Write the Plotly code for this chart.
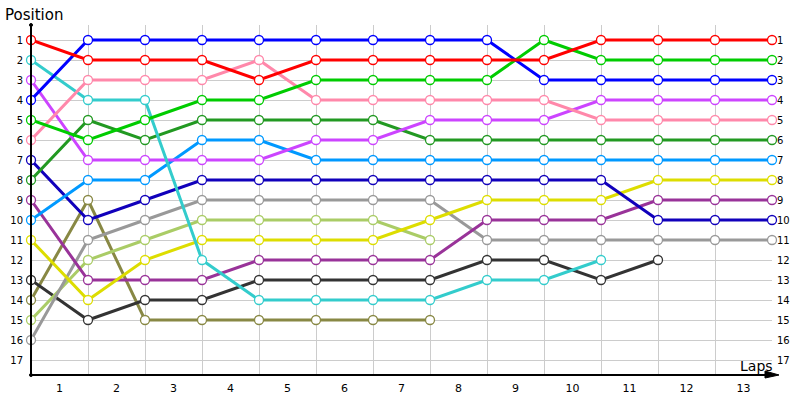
import plotly.graph_objects as go

# lap 0 = start grid, then laps 1..13
laps = list(range(14))
lap_labels = [str(i) for i in range(1, 14)]
positions = list(range(1, 18))

red = [1, 2, 2, 2, 3, 2, 2, 2, 2, 2, 1, 1, 1, 1]
blue = [4, 1, 1, 1, 1, 1, 1, 1, 1, 3, 3, 3, 3, 3]
green = [5, 6, 5, 4, 4, 3, 3, 3, 3, 1, 2, 2, 2, 2]
pink = [6, 3, 3, 3, 2, 4, 4, 4, 4, 4, 5, 5, 5, 5]
cyan = [2, 4, 4, 12, 14, 14, 14, 14, 13, 13, 12]
violet = [3, 7, 7, 7, 7, 6, 6, 5, 5, 5, 4, 4, 4, 4]
dark_green = [8, 5, 6, 5, 5, 5, 5, 6, 6, 6, 6, 6, 6, 6]
light_blue = [10, 8, 8, 6, 6, 7, 7, 7, 7, 7, 7, 7, 7, 7]
navy = [7, 10, 9, 8, 8, 8, 8, 8, 8, 8, 8, 10, 10, 10]
yellow = [11, 14, 12, 11, 11, 11, 11, 10, 9, 9, 9, 8, 8, 8]
purple = [9, 13, 13, 13, 12, 12, 12, 12, 10, 10, 10, 9, 9, 9]
grey = [16, 11, 10, 9, 9, 9, 9, 9, 11, 11, 11, 11, 11, 11]
light_green = [15, 12, 11, 10, 10, 10, 10, 11]
charcoal = [13, 15, 14, 14, 13, 13, 13, 13, 12, 12, 13, 12]
olive = [14, 9, 15, 15, 15, 15, 15, 15]

series = [
    (olive, "#888844"), (charcoal, "#333333"), (light_green, "#AACC66"),
    (grey, "#999999"), (purple, "#993399"), (yellow, "#DDDD00"),
    (navy, "#1100BB"), (light_blue, "#0099FF"), (dark_green, "#229922"),
    (violet, "#CC44FF"), (cyan, "#33CCCC"), (pink, "#FF88AA"),
    (green, "#00CC00"), (blue, "#0000FF"), (red, "#FF0000"),
]

FONT = "DejaVu Sans"
L, R, T, B = 31, 28, 25, 25
W, H = 800 - L - R, 400 - T - B

fig = go.Figure()
for vals, col in series:
    fig.add_trace(go.Scatter(
        x=laps[:len(vals)], y=vals, mode="lines+markers",
        line=dict(color=col, width=3),
        marker=dict(size=9, color="white", line=dict(color=col, width=1.3)),
        cliponaxis=False, showlegend=False, hoverinfo="skip",
    ))

# empty trace to carry the right-hand position axis
fig.add_trace(go.Scatter(x=[0], y=[1], yaxis="y2", mode="markers",
                         marker=dict(opacity=0), showlegend=False, hoverinfo="skip"))


def px_x(p):
    return (p - L) / W


def px_y(p):
    return (400 - B - p) / H


fig.update_layout(
    width=800, height=400,
    margin=dict(l=L, r=R, t=T, b=B, autoexpand=False),
    paper_bgcolor="white", plot_bgcolor="white",
    font=dict(family=FONT, size=10, color="#000"),
    xaxis=dict(
        range=[0, 13], tickvals=[i + 0.5 for i in range(13)], ticktext=lap_labels,
        showgrid=False, zeroline=False, showline=False, ticks="", automargin=False,
        tickfont=dict(size=11), ticklabelstandoff=5,
        minor=dict(tick0=0, dtick=1, showgrid=True, gridcolor="#CCCCCC", gridwidth=1),
    ),
    yaxis=dict(
        range=[17.75, 0.25], tickvals=positions, showgrid=True, gridcolor="#CCCCCC",
        zeroline=False, showline=False, ticks="", ticklabelstandoff=7, automargin=False,
    ),
    yaxis2=dict(
        range=[17.75, 0.25], tickvals=positions, overlaying="y", side="right",
        showgrid=False, zeroline=False, showline=False, ticks="", ticklabelstandoff=4,
        automargin=False,
    ),
    shapes=[
        dict(type="line", xref="paper", yref="paper", x0=0, x1=px_x(772), y0=0, y1=0,
             line=dict(color="black", width=2)),
        dict(type="path", xref="paper", yref="paper",
             path=f"M {px_x(765)},{px_y(371)} L {px_x(779)},{px_y(375)} L {px_x(765)},{px_y(378)} Z",
             fillcolor="black", line=dict(color="black", width=1)),
        dict(type="line", xref="paper", yref="paper", x0=0, x1=0, y0=0, y1=1,
             line=dict(color="black", width=2)),
        dict(type="circle", xref="paper", yref="paper",
             x0=px_x(29.5), x1=px_x(32.5), y0=px_y(26.5), y1=px_y(23.5),
             fillcolor="black", line=dict(color="black", width=1)),
        dict(type="circle", xref="paper", yref="paper",
             x0=px_x(29.5), x1=px_x(32.5), y0=px_y(376.5), y1=px_y(373.5),
             fillcolor="black", line=dict(color="black", width=1)),
    ],
    annotations=[
        dict(text="Position", xref="paper", yref="paper", x=px_x(3), y=px_y(15),
             xanchor="left", yanchor="middle", showarrow=False,
             font=dict(family=FONT, size=15, color="#000")),
        dict(text="Laps", xref="paper", yref="paper", x=px_x(775), y=px_y(366),
             xanchor="right", yanchor="middle", showarrow=False,
             font=dict(family=FONT, size=14, color="#000")),
    ],
)

# the page's default body margin would push the 800x400 figure out of the window
fig.write_html("out.html", config={"displayModeBar": False},
               post_script="document.body.style.margin='0';")
